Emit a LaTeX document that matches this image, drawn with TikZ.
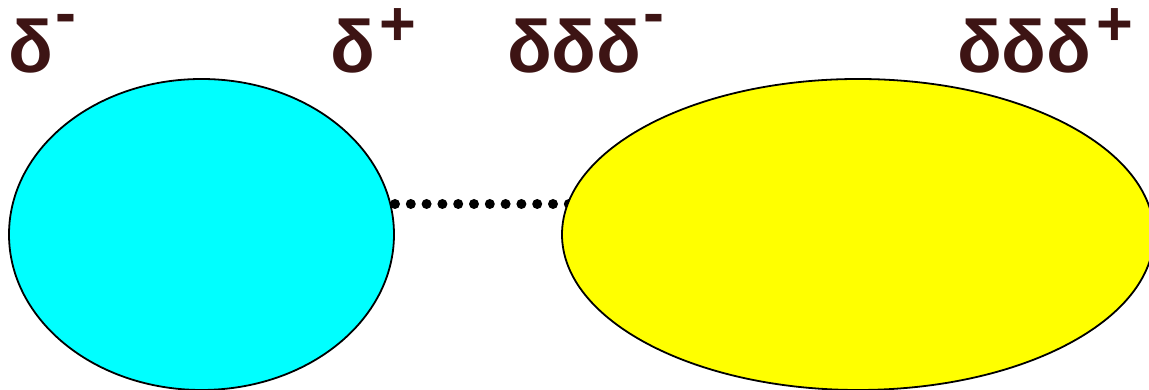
\documentclass[tikz,border=0pt]{standalone}
\usepackage{fontspec}
\setmainfont{Liberation Sans}
\usetikzlibrary{shapes.geometric}
\definecolor{labelbrown}{RGB}{61,20,20}
\definecolor{cyanfill}{RGB}{0,255,255}
\definecolor{yellowfill}{RGB}{255,255,0}
\newcommand{\mainsize}{\fontsize{74}{74}\selectfont\bfseries}
\newcommand{\supsize}{\fontsize{63}{63}\selectfont\bfseries}
\newcommand{\supplus}{\kern5pt\smash{\raisebox{27pt}{\supsize +}}}
\newcommand{\supminus}{\kern2pt\smash{\raisebox{38pt}{\supsize -}}}
\tikzset{
  blob/.style={ellipse, draw=black, line width=1.8pt, inner sep=0pt},
  charge/.style={anchor=base west, inner sep=0pt, outer sep=0pt, text=labelbrown, font=\mainsize},
  dotline/.style={line width=10pt, line cap=round, dash pattern=on 0pt off 15.8pt, draw=black}
}
\begin{document}
\begin{tikzpicture}[x=1pt,y=1pt]
\useasboundingbox (0,0) rectangle (1149,390);
\node[blob, fill=cyanfill, minimum width=385pt, minimum height=311pt] (cy) at (201.5,155.5) {};
\coordinate (dstart) at (395,186);
\coordinate (dend) at (569,186);
\draw[dotline] (dstart) -- (dend);
\node[blob, fill=yellowfill, minimum width=592pt, minimum height=311pt] (ye) at (858,155.5) {};
\node[charge] (l1) at (9,317) {δ\supminus};
\node[charge] (l2) at (330,317) {δ\supplus};
\node[charge] (l3) at (507,317) {δδδ\supminus};
\node[charge] (l4) at (957,317) {δδδ\supplus};
\end{tikzpicture}
\end{document}
